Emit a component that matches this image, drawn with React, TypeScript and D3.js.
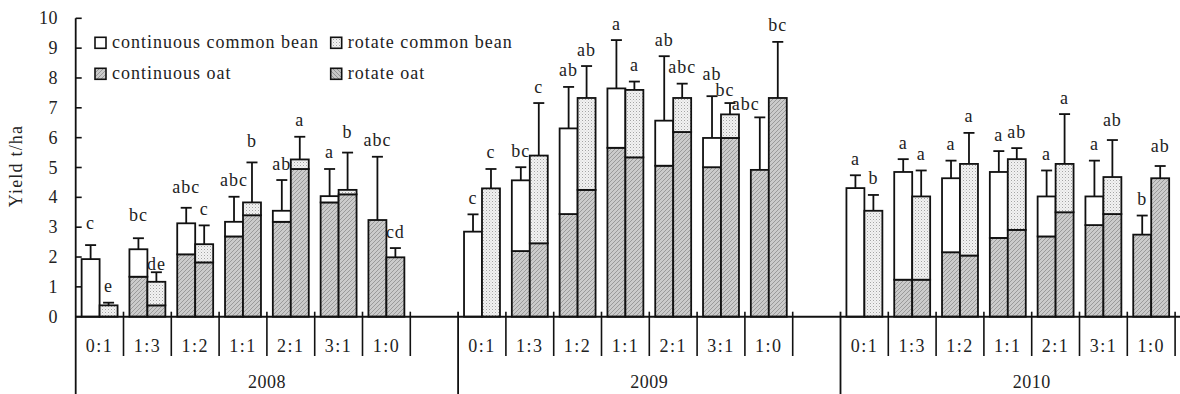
import React from "react";
import * as d3 from "d3";

// ---------- data ----------
const years = ["2008", "2009", "2010"];
const ratios = ["0:1", "1:3", "1:2", "1:1", "2:1", "3:1", "1:0"];
const yTicks = [0, 1, 2, 3, 4, 5, 6, 7, 8, 9, 10];

// continuous system: oat part, common bean part, standard error of total
const contOat = [
  [0, 1.34, 2.09, 2.69, 3.18, 3.83, 3.24],
  [0, 2.2, 3.44, 5.66, 5.06, 5.01, 4.92],
  [0, 1.24, 2.16, 2.64, 2.69, 3.07, 2.75],
];
const contBean = [
  [1.93, 0.92, 1.04, 0.49, 0.37, 0.21, 0],
  [2.85, 2.37, 2.87, 1.99, 1.51, 0.98, 0],
  [4.31, 3.61, 2.48, 2.21, 1.34, 0.96, 0],
];
const contErr = [
  [0.47, 0.37, 0.52, 0.84, 1.03, 0.91, 2.12],
  [0.58, 0.44, 1.39, 1.62, 2.16, 1.4, 1.76],
  [0.43, 0.43, 0.59, 0.7, 0.87, 1.2, 0.64],
];
const contLetters = [
  ["c", "bc", "abc", "abc", "ab", "a", "abc"],
  ["c", "bc", "ab", "a", "ab", "ab", "abc"],
  ["a", "a", "a", "a", "a", "a", "b"],
];

// rotation system
const rotOat = [
  [0, 0.38, 1.82, 3.4, 4.95, 4.1, 1.99],
  [0, 2.46, 4.25, 5.34, 6.19, 5.99, 7.33],
  [0, 1.24, 2.05, 2.91, 3.5, 3.44, 4.64],
];
const rotBean = [
  [0.38, 0.79, 0.61, 0.43, 0.32, 0.15, 0],
  [4.3, 2.94, 3.08, 2.26, 1.14, 0.79, 0],
  [3.55, 2.79, 3.07, 2.37, 1.62, 1.24, 0],
];
const rotErr = [
  [0.09, 0.32, 0.63, 1.34, 0.76, 1.25, 0.31],
  [0.65, 1.76, 1.07, 0.28, 0.48, 0.38, 1.88],
  [0.53, 0.87, 1.04, 0.37, 1.67, 1.24, 0.41],
];
const rotLetters = [
  ["e", "de", "c", "b", "a", "b", "cd"],
  ["c", "c", "ab", "a", "abc", "bc", "bc"],
  ["b", "a", "a", "ab", "a", "ab", "ab"],
];

const legendItems = [
  { label: "continuous common bean", fill: "#ffffff" },
  { label: "rotate common bean", fill: "url(#dots)" },
  { label: "continuous oat", fill: "url(#hatch)" },
  { label: "rotate oat", fill: "url(#hatch2)" },
];

// ---------- layout ----------
const W = 1180;
const H = 394;
const X0 = 75.7;
const SLOT = 47.8;
const SLOTS_PER_YEAR = 8;
const FONT = "'Liberation Serif', 'Times New Roman', serif";
const TXT = "#222";

// manual nudges for some letter labels (dx, dy in px), keyed by "yearIndex-ratioIndex-series"
const labelNudge: Record<string, [number, number]> = {
  "0-0-c": [0, -5.5],
  "0-1-c": [0, -7],
  "0-2-c": [0, -4],
  "0-1-r": [0, 8],
  "0-3-r": [0, -4.5],
  "0-5-r": [0, -4],
  "1-5-c": [0, -5.5],
  "1-5-r": [-5, 3.5],
  "1-6-c": [-14, 3],
  "2-5-r": [0, -4],
  "2-6-r": [0, -4],
};

export default function App() {
  const slotKeys: string[] = [];
  years.forEach((_, yi) => {
    for (let i = 0; i < SLOTS_PER_YEAR; i++) slotKeys.push(`${yi}-${i}`);
  });
  const x = d3
    .scaleBand<string>()
    .domain(slotKeys)
    .range([X0, X0 + slotKeys.length * SLOT])
    .padding(0);
  const sub = d3
    .scaleBand<string>()
    .domain(["c", "r"])
    .range([0, x.bandwidth()])
    .paddingInner(0)
    .paddingOuter(0.33);
  const y = d3.scaleLinear().domain([0, 10]).range([316.7, 18.3]);
  const y0 = y(0);

  const bars: React.ReactNode[] = [];
  const errs: React.ReactNode[] = [];
  const labels: React.ReactNode[] = [];

  years.forEach((_, yi) => {
    ratios.forEach((_, ri) => {
      const key = `${yi}-${ri}`;
      const series = [
        { s: "c", oat: contOat[yi][ri], bean: contBean[yi][ri], err: contErr[yi][ri], letter: contLetters[yi][ri], beanFill: "#ffffff", oatFill: "url(#hatch)" },
        { s: "r", oat: rotOat[yi][ri], bean: rotBean[yi][ri], err: rotErr[yi][ri], letter: rotLetters[yi][ri], beanFill: "url(#dots)", oatFill: "url(#hatch)" },
      ];
      series.forEach((d) => {
        const bx = (x(key) as number) + (sub(d.s) as number);
        const bw = sub.bandwidth();
        const total = d.oat + d.bean;
        if (d.oat > 0) {
          bars.push(
            <rect key={`o${key}${d.s}`} x={bx} y={y(d.oat)} width={bw} height={y0 - y(d.oat)} fill={d.oatFill} stroke="#111" strokeWidth={1.8} />
          );
        }
        if (d.bean > 0) {
          bars.push(
            <rect key={`b${key}${d.s}`} x={bx} y={y(total)} width={bw} height={y(d.oat) - y(total)} fill={d.beanFill} stroke="#111" strokeWidth={1.8} />
          );
        }
        const cx = bx + bw / 2;
        const top = y(total + d.err);
        errs.push(
          <g key={`e${key}${d.s}`} stroke="#111" strokeWidth={1.8}>
            <line x1={cx} x2={cx} y1={y(total)} y2={top} />
            <line x1={cx - 5.5} x2={cx + 5.5} y1={top} y2={top} />
          </g>
        );
        const nd = labelNudge[`${yi}-${ri}-${d.s}`] || [0, 0];
        labels.push(
          <text key={`l${key}${d.s}`} x={cx + nd[0]} y={top - 10.5 + nd[1]} textAnchor="middle" fontFamily={FONT} fontSize={18} letterSpacing={1} fill={TXT}>
            {d.letter}
          </text>
        );
      });
    });
  });

  // axis separators
  const seps: React.ReactNode[] = [];
  for (let i = 1; i <= slotKeys.length; i++) {
    const sx = X0 + i * SLOT;
    const isYear = i % SLOTS_PER_YEAR === 0;
    seps.push(
      <line key={`s${i}`} x1={sx} x2={sx} y1={y0 - 5} y2={isYear ? 394 : 356} stroke="#111" strokeWidth={isYear ? 1.8 : 1.6} />
    );
  }

  return (
    <svg width={W} height={H} style={{ position: "absolute", left: 0, top: 0, background: "#fff" }}>
      <defs>
        <pattern id="dots" width={3} height={3} patternUnits="userSpaceOnUse">
          <rect width={3} height={3} fill="#f2f2f2" />
          <rect x={0} y={0} width={1} height={1} fill="#a4a4a4" />
          <rect x={1.5} y={1.5} width={1} height={1} fill="#cccccc" />
        </pattern>
        <pattern id="hatch" width={4} height={4} patternUnits="userSpaceOnUse">
          <rect width={4} height={4} fill="#cbcbcb" />
          <path d="M-1,1 L1,-1 M0,4 L4,0 M3,5 L5,3" stroke="#9a9a9a" strokeWidth={1} />
        </pattern>
        <pattern id="hatch2" width={4} height={4} patternUnits="userSpaceOnUse">
          <rect width={4} height={4} fill="#c6c6c6" />
          <path d="M-1,3 L1,5 M0,0 L4,4 M3,-1 L5,1" stroke="#929292" strokeWidth={1} />
        </pattern>
      </defs>

      {/* y axis */}
      <line x1={X0} x2={X0} y1={y(10)} y2={394} stroke="#111" strokeWidth={1.8} />
      {yTicks.map((t) => (
        <g key={`t${t}`}>
          <line x1={X0} x2={X0 + 6} y1={y(t)} y2={y(t)} stroke="#111" strokeWidth={1.6} />
          <text x={58} y={y(t) + 6} textAnchor="end" fontFamily={FONT} fontSize={18} letterSpacing={0.5} fill={TXT}>
            {t}
          </text>
        </g>
      ))}
      <text
        transform={`translate(22,${166}) rotate(-90)`}
        textAnchor="middle"
        fontFamily={FONT}
        fontSize={18}
        letterSpacing={1.2}
        fill={TXT}
      >
        Yield t/ha
      </text>

      {bars}
      {errs}
      {labels}

      {/* x axis */}
      <line x1={X0} x2={W} y1={y0} y2={y0} stroke="#111" strokeWidth={2} />
      {seps}
      {years.map((yr, yi) =>
        ratios.map((r, ri) => {
          const key = `${yi}-${ri}`;
          return (
            <text key={`c${key}`} x={(x(key) as number) + x.bandwidth() / 2} y={352} textAnchor="middle" fontFamily={FONT} fontSize={18} letterSpacing={1.5} fill={TXT}>
              {r}
            </text>
          );
        })
      )}
      {years.map((yr, yi) => (
        <text key={`y${yr}`} x={X0 + (yi + 0.5) * SLOTS_PER_YEAR * SLOT} y={388} textAnchor="middle" fontFamily={FONT} fontSize={18} letterSpacing={0.5} fill={TXT}>
          {yr}
        </text>
      ))}

      {/* legend */}
      {legendItems.map((it, i) => {
        const lx = i % 2 === 0 ? 95 : 330.7;
        const ly = i < 2 ? 37.3 : 68.3;
        return (
          <g key={`lg${i}`}>
            <rect x={lx} y={ly} width={11} height={11} fill={it.fill} stroke="#111" strokeWidth={1.6} />
            <text x={lx + 17} y={ly + 11} fontFamily={FONT} fontSize={18} letterSpacing={1} fill={TXT}>
              {it.label}
            </text>
          </g>
        );
      })}
    </svg>
  );
}
